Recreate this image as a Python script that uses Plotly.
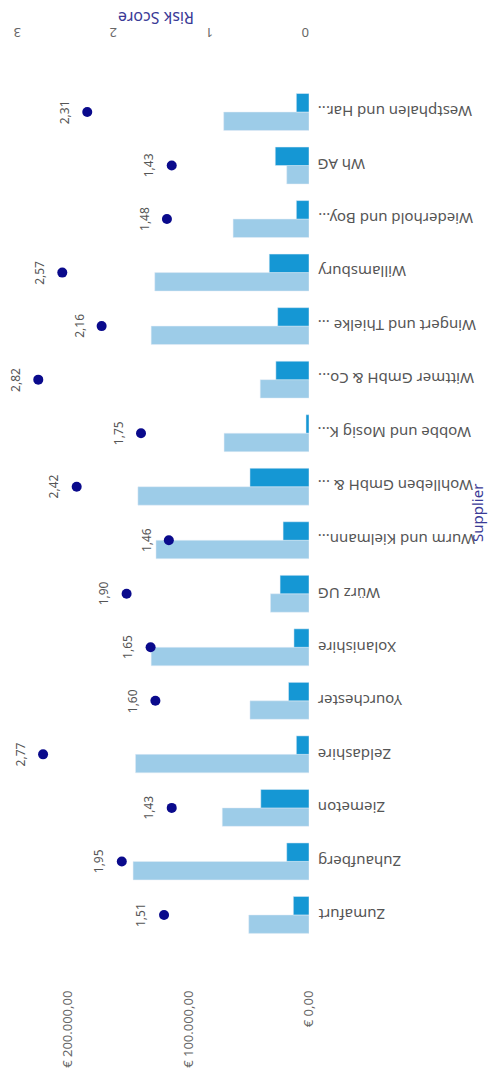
import plotly.graph_objects as go

suppliers = ["Zumafurt", "Zuhaufberg", "Ziemeton", "Zeldashire", "Yourchester",
             "Xolanishire", "Würz UG", "Wurm und Kielmann...", "Wohlleben GmbH & ...",
             "Wobbe und Mosig K...", "Wittmer GmbH & Co...", "Wingert und Thielke ...",
             "Willamsbury", "Wiederhold und Boy...", "Wh AG", "Westphalen und Har..."]
spend_total = [50000, 146000, 72000, 144000, 49000, 131000, 32000, 127000, 142000,
               70500, 40500, 131000, 128000, 63000, 18500, 70800]
spend_risk = [13000, 18500, 40000, 10500, 17000, 12500, 24000, 21500, 49000,
              2500, 27500, 26000, 33000, 10500, 28000, 10500]
risk_score = [1.51, 1.95, 1.43, 2.77, 1.60, 1.65, 1.90, 1.46, 2.42, 1.75,
              2.82, 2.16, 2.57, 1.48, 1.43, 2.31]
euro_ticks = [0, 100000, 200000]
euro_tick_labels = ["€ 0,00", "€ 100.000,00", "€ 200.000,00"]
risk_ticks = [0, 1, 2, 3]

W, H = 499, 1089
L, R, T, B = 20, 190, 45, 102
plot_w = W - L - R
plot_h = H - T - B

FONT = "Noto Sans"
GRAY = "#555555"
TITLE = "#3a3a96"

fig = go.Figure()
fig.add_trace(go.Bar(y=suppliers, x=spend_total, orientation="h",
                     marker_color="#9dcce8", name="Total", xaxis="x", yaxis="y"))
fig.add_trace(go.Bar(y=suppliers, x=spend_risk, orientation="h",
                     marker_color="#1597d4", name="Risk", xaxis="x", yaxis="y"))
fig.add_trace(go.Scatter(y=suppliers, x=risk_score, mode="markers",
                         marker=dict(color="#0a0a8c", size=10),
                         xaxis="x2", yaxis="y", name="Risk Score"))

annotations = []
for s, r in zip(suppliers, risk_score):
    annotations.append(dict(x=r, y=s, xref="x2", yref="y",
                            text=f"{r:.2f}".replace(".", ","), showarrow=False,
                            textangle=-90, xshift=-23,
                            font=dict(family=FONT, size=12, color=GRAY)))

for s in suppliers:
    annotations.append(dict(x=(316 - L) / plot_w, y=s, xref="paper", yref="y",
                            text=s, showarrow=False, textangle=180,
                            xanchor="left", yanchor="middle",
                            font=dict(family=FONT, size=15, color=GRAY)))

annotations.append(dict(x=(156 - L) / plot_w, y=(H - B - 5) / plot_h,
                        xref="paper", yref="paper", text="Risk Score",
                        showarrow=False, textangle=180,
                        font=dict(family=FONT, size=16, color=TITLE)))
annotations.append(dict(x=(489 - L) / plot_w, y=(H - B - 513) / plot_h,
                        xref="paper", yref="paper", text="Supplier",
                        showarrow=False, textangle=-90,
                        font=dict(family=FONT, size=15, color=TITLE)))

px_per_cat = 53.53
r_top = 15 + (112 - T) / px_per_cat
r_bot = r_top - plot_h / px_per_cat
euro_max = plot_w / 120.5 * 100000
risk_max = plot_w / 96.0

fig.update_layout(
    width=W, height=H,
    margin=dict(l=L, r=R, t=T, b=B),
    paper_bgcolor="white", plot_bgcolor="white",
    showlegend=False,
    barmode="group", bargap=0.31, bargroupgap=0,
    font=dict(family=FONT, color=GRAY),
    xaxis=dict(range=[euro_max, 0], tickvals=euro_ticks, ticktext=euro_tick_labels,
               tickangle=-90, showgrid=False, zeroline=False, showline=False,
               tickfont=dict(family=FONT, size=13, color="#666666")),
    xaxis2=dict(range=[risk_max, 0], overlaying="x", side="top", tickvals=risk_ticks,
                tickangle=180, showgrid=False, zeroline=False, showline=False,
                tickfont=dict(family=FONT, size=13, color="#666666")),
    yaxis=dict(range=[r_bot, r_top], showticklabels=False, showgrid=False,
               zeroline=False, showline=False, type="category"),
    annotations=annotations,
)

fig.write_html("out.html", config={"displayModeBar": False},
               post_script="document.body.style.margin='0';document.body.style.overflow='hidden';")
